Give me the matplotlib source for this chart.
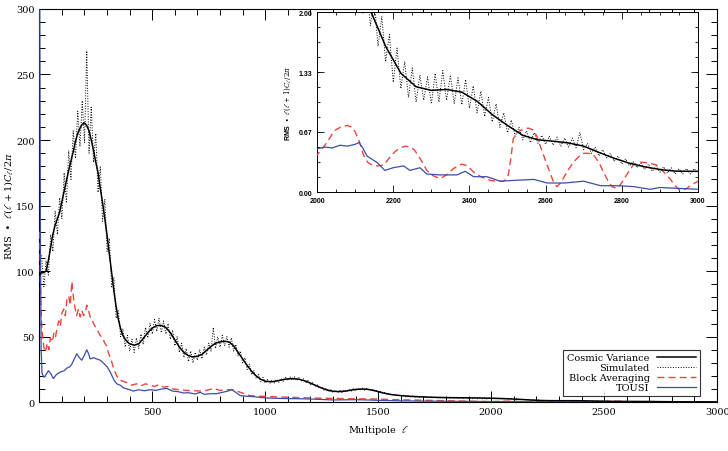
import numpy as np
import matplotlib
matplotlib.use("Agg")
import matplotlib.pyplot as plt
from matplotlib.ticker import MultipleLocator, FuncFormatter

plt.rcParams['font.family'] = ['DejaVu Serif']
plt.rcParams['mathtext.fontset'] = 'dejavuserif'

# cosmic variance (smooth curve)
cv_ell = [2, 10, 20, 30, 40, 50, 60, 70, 80, 90, 100, 110, 120, 130, 140, 150, 160, 170, 180, 190,
          200, 210, 220, 230, 240, 250, 260, 270, 280, 290, 300, 310, 320, 330, 340, 350, 360, 370, 380, 390,
          400, 420, 440, 460, 480, 500, 520, 540, 560, 580, 600, 620, 640, 660, 680, 700, 720, 740, 760, 780,
          800, 820, 840, 860, 880, 900, 920, 940, 960, 980, 1000, 1030, 1060, 1090, 1120, 1150, 1180, 1210,
          1240, 1270, 1300, 1330, 1360, 1390, 1420, 1450, 1480, 1510, 1550, 1600, 1650, 1700, 1750, 1800,
          1850, 1900, 1950, 2000, 2050, 2100, 2140, 2180, 2220, 2260, 2300, 2340, 2380, 2420, 2460, 2500,
          2540, 2580, 2620, 2660, 2700, 2740, 2780, 2820, 2860, 2900, 2940, 2980, 3000]
cv_val = [97, 99, 99, 100, 108, 118, 128, 135, 140, 145, 153, 161, 169, 177, 184, 191, 199, 205, 209, 212,
          213, 211, 207, 200, 192, 183, 175, 163, 152, 140, 127, 113, 99, 85, 73, 63, 56, 51, 48, 46,
          44.5, 43.5, 44.5, 48.5, 53, 56.5, 58.5, 58.5, 57, 53, 47.5, 42, 38, 35.5, 34.5, 35, 36.5, 39.5, 42.5, 45,
          46, 46.5, 46, 43, 38, 33, 28, 23.5, 20, 17.5, 16, 15.6, 16.5, 17.6, 18, 17.5, 16, 13.8,
          11.5, 9.5, 8.3, 8.1, 8.6, 9.5, 10, 9.9, 9.0, 7.6, 6.0, 5.0, 4.4, 4.0, 3.7, 3.5,
          3.4, 3.3, 3.2, 3.0, 2.75, 2.4, 2.02, 1.62, 1.32, 1.17, 1.13, 1.14, 1.11, 1.01, 0.86, 0.74,
          0.63, 0.58, 0.565, 0.545, 0.51, 0.44, 0.375, 0.32, 0.28, 0.25, 0.232, 0.23, 0.23]

# simulated spectrum, sampled every 10 in multipole
sim_ell = np.arange(10, 3001, 10)
sim_val = [112, 88, 108, 97, 128, 115, 146, 128, 156, 140,
           175, 152, 192, 170, 207, 186, 222, 195, 230, 198,
           268, 190, 225, 183, 205, 160, 180, 138, 155, 115,
           125, 88, 95, 64, 70, 50, 56, 42, 51, 39,
           48, 38, 49, 41, 52, 44, 57, 49, 60, 52,
           63, 54, 64, 53, 62, 52, 60, 48, 55, 43,
           50, 38, 45, 34, 41, 31, 39, 30, 38, 32,
           40, 33, 42, 36, 45, 39, 57, 41, 50, 42,
           51, 43, 50, 42, 49, 39, 44, 35, 39, 30,
           34, 25, 29, 21, 24, 18, 21, 15.5, 19, 14.5,
           17.2, 14.3, 16.9, 14.6, 17.5, 15.2, 18.1, 16.0, 19.0, 16.6,
           19.2, 16.8, 19.3, 16.5, 18.8, 16.0, 17.9, 14.9, 16.5, 13.4,
           14.9, 12.0, 13.3, 10.6, 11.7, 9.1, 10.5, 8.1, 9.5, 7.5,
           9.0, 7.2, 8.9, 7.4, 9.2, 7.8, 9.7, 8.4, 10.3, 8.9,
           10.7, 9.2, 10.8, 9.2, 10.6, 9.0, 10.1, 8.3, 9.2, 7.3,
           8.2, 6.6, 7.5, 5.9, 6.7, 5.2, 6.1, 4.7, 5.6, 4.4,
           5.4, 4.2, 5.0, 3.9, 4.8, 3.8, 4.6, 3.6, 4.4, 3.5,
           4.3, 3.3, 4.1, 3.2, 4.0, 3.1, 3.9, 3.0, 3.8, 3.0,
           3.8, 2.9, 3.7, 2.9, 3.7, 2.8, 3.6, 2.8, 3.6, 2.7,
           3.5, 2.7, 3.4, 2.6, 3.4, 2.6, 3.3, 2.5, 3.2, 2.5,
           3.2, 2.7, 3.1, 2.6, 2.95, 2.5, 2.85, 2.35, 2.7, 2.2,
           2.55, 1.98, 2.3, 1.85, 2.15, 1.62, 1.95, 1.45, 1.75, 1.22,
           1.6, 1.15, 1.45, 1.05, 1.38, 1.0, 1.3, 1.02, 1.28, 0.98,
           1.32, 1.0, 1.35, 1.02, 1.3, 0.98, 1.27, 0.97, 1.25, 0.93,
           1.18, 0.88, 1.12, 0.84, 1.05, 0.78, 0.98, 0.72, 0.88, 0.66,
           0.8, 0.62, 0.72, 0.58, 0.68, 0.55, 0.66, 0.54, 0.63, 0.53,
           0.62, 0.52, 0.61, 0.51, 0.6, 0.5, 0.6, 0.49, 0.66, 0.47,
           0.54, 0.43, 0.5, 0.4, 0.47, 0.38, 0.43, 0.34, 0.4, 0.31,
           0.37, 0.29, 0.34, 0.27, 0.32, 0.25, 0.31, 0.23, 0.29, 0.22,
           0.28, 0.21, 0.27, 0.2, 0.26, 0.2, 0.26, 0.2, 0.26, 0.21]

# block averaging
blk_ell = [2, 6, 10, 15, 20, 27, 35, 42, 49, 57, 65, 72, 78, 86, 93, 100, 108, 115, 122, 130,
           137, 144, 151, 158, 165, 173, 181, 188, 196, 203, 210, 218, 225, 232, 240, 250, 260, 269, 280, 290,
           298, 305, 312, 320, 330, 343, 355, 370, 387, 410, 430, 450, 470, 490, 510, 530, 550, 575, 593, 620,
           650, 680, 712, 740, 771, 800, 830, 860, 890, 933, 970, 1000, 1050, 1100, 1155, 1200, 1260, 1320,
           1380, 1440, 1500, 1560, 1620, 1700, 1780, 1850, 1920, 1970,
           2000, 2026, 2045, 2061, 2079, 2092, 2100, 2112, 2122, 2133, 2144, 2160, 2175, 2192, 2205, 2218,
           2232, 2244, 2255, 2265, 2278, 2288, 2305, 2323, 2340, 2358, 2370, 2380, 2395, 2411, 2430, 2454,
           2470, 2489, 2496, 2502, 2508, 2515, 2525, 2541, 2555, 2567, 2577, 2585, 2598, 2611, 2620, 2629,
           2637, 2646, 2660, 2673, 2686, 2700, 2713, 2726, 2740, 2752, 2763, 2774, 2787, 2796, 2804, 2817,
           2830, 2843, 2856, 2873, 2891, 2908, 2926, 2940, 2952, 2961, 2970, 2983, 2996, 3000]
blk_val = [130, 80, 60, 50, 42, 38, 45, 40, 49, 46, 53, 50, 56, 62, 58, 68, 71, 66, 78, 81,
           74, 92, 80, 72, 66, 71, 65, 70, 66, 68, 74, 70, 65, 64, 60, 57, 54, 51, 49, 45,
           43, 38, 35, 31, 25, 20, 17, 16, 15, 13, 14, 12.5, 14, 13, 12, 13.5, 11.5, 12, 10, 9.5,
           9, 8.8, 8.5, 9, 10.5, 9, 9.5, 9.5, 7.5, 5, 4.5, 4.5, 4.0, 3.8, 3.5, 3.2, 3.0, 2.8,
           2.6, 2.5, 2.4, 2.0, 1.8, 1.5, 1.2, 0.9, 0.7, 0.5,
           0.41, 0.55, 0.68, 0.72, 0.74, 0.72, 0.67, 0.55, 0.41, 0.33, 0.30, 0.29, 0.30, 0.39, 0.45, 0.49,
           0.51, 0.50, 0.47, 0.41, 0.32, 0.24, 0.18, 0.15, 0.19, 0.26, 0.29, 0.31, 0.29, 0.22, 0.17, 0.13,
           0.12, 0.12, 0.14, 0.19, 0.35, 0.59, 0.66, 0.70, 0.71, 0.69, 0.62, 0.52, 0.37, 0.22, 0.12, 0.06,
           0.09, 0.15, 0.25, 0.33, 0.39, 0.43, 0.43, 0.41, 0.33, 0.22, 0.13, 0.06, 0.04, 0.08, 0.13, 0.22,
           0.30, 0.33, 0.33, 0.32, 0.30, 0.23, 0.15, 0.07, 0.02, 0.02, 0.04, 0.08, 0.11, 0.12]

# TOUSI
tou_ell = [2, 5, 8, 12, 20, 30, 40, 50, 62, 75, 93, 110, 122, 135, 144, 155, 166, 177, 188, 200,
           210, 218, 225, 240, 254, 270, 283, 300, 314, 330, 343, 358, 372, 390, 416, 440, 465, 490, 515, 540,
           564, 590, 615, 638, 660, 690, 712, 730, 760, 785, 810, 835, 852, 870, 889, 920, 950, 980, 1007, 1040,
           1080, 1120, 1155, 1200, 1260, 1300, 1350, 1400, 1450, 1500, 1560, 1620, 1700, 1800, 1900,
           2000, 2020, 2040, 2060, 2080, 2100, 2110, 2120, 2131, 2157, 2178, 2200, 2227, 2244, 2270, 2288,
           2323, 2367, 2389, 2411, 2446, 2481, 2520, 2569, 2604, 2650, 2700, 2744, 2790, 2831, 2874, 2900,
           2950, 3000]
tou_val = [310, 120, 40, 22, 19, 21, 24, 22, 18, 21, 23, 24, 26, 27, 29, 33, 37, 34, 32, 36,
           40, 37, 33, 34, 33, 32, 30, 27, 23, 17, 14, 13, 11, 10, 8.5, 9.5, 8.7, 9.5, 9, 10,
           10.5, 8.5, 8, 7, 7.2, 6.3, 7.5, 6, 6.5, 6.5, 7.5, 8.5, 9.5, 7.5, 5, 4.5, 4.2, 3.6, 3.2, 3.0,
           2.8, 2.7, 2.6, 2.4, 2.0, 1.7, 1.8, 1.9, 1.7, 1.4, 1.2, 1.0, 0.8, 0.7, 0.6,
           0.48, 0.50, 0.49, 0.52, 0.51, 0.53, 0.55, 0.49, 0.40, 0.33, 0.24, 0.27, 0.29, 0.24, 0.27, 0.20,
           0.19, 0.19, 0.23, 0.17, 0.17, 0.12, 0.13, 0.14, 0.10, 0.10, 0.12, 0.07, 0.07, 0.06, 0.03, 0.05,
           0.04, 0.03]

red = '#e8473b'
blue = '#3c4ca8'


def draw_series(ax, lw=1.0):
    ax.plot(sim_ell, sim_val, color='black', ls=':', lw=0.7, label='Simulated', zorder=2)
    ax.plot(cv_ell, cv_val, color='black', ls='-', lw=1.1 * lw, label='Cosmic Variance', zorder=4)
    ax.plot(blk_ell, blk_val, color=red, ls=(0, (5, 3)), lw=lw, label='Block Averaging', zorder=3)
    ax.plot(tou_ell, tou_val, color=blue, ls='-', lw=0.9 * lw, label='TOUSI', zorder=3)


fig = plt.figure(figsize=(7.28, 4.52), dpi=100)
ax = fig.add_axes([0.054, 0.108, 0.931, 0.870])
draw_series(ax)
ax.set_xlim(0, 3000)
ax.set_ylim(0, 300)
ax.xaxis.set_major_locator(MultipleLocator(500))
ax.xaxis.set_minor_locator(MultipleLocator(100))
ax.yaxis.set_major_locator(MultipleLocator(50))
ax.yaxis.set_minor_locator(MultipleLocator(10))
ax.xaxis.set_major_formatter(FuncFormatter(lambda v, p: '' if v == 0 else '%d' % v))
ax.tick_params(which='both', direction='in', top=True, right=True, labelsize=7, width=0.7)
ax.tick_params(which='major', length=8)
ax.tick_params(which='minor', length=4)
for s in ax.spines.values():
    s.set_linewidth(0.8)
ax.set_xlabel(r'Multipole  $\ell$', fontsize=7)
ax.set_ylabel(r'RMS  $\bullet$  $\ell(\ell+1)C_\ell/2\pi$', fontsize=7)
ax.xaxis.labelpad = 5
ax.yaxis.labelpad = 1

h, l = ax.get_legend_handles_labels()
order = [1, 0, 2, 3]
leg = ax.legend([h[i] for i in order], [l[i] for i in order], loc='lower right',
                bbox_to_anchor=(0.975, 0.015), borderaxespad=0, markerfirst=False,
                fancybox=False, frameon=True, fontsize=7, handlelength=4,
                labelspacing=0.1, borderpad=0.4, handletextpad=0.8)
leg.get_frame().set_edgecolor('black')
leg.get_frame().set_linewidth(0.8)

# inset zoom on the high multipoles
axin = fig.add_axes([0.4355, 0.573, 0.5233, 0.398])
draw_series(axin, lw=1.0)
axin.set_xlim(2000, 3000)
axin.set_ylim(0, 2)
axin.set_xticks([2000, 2200, 2400, 2600, 2800, 3000])
axin.set_yticks([0, 0.67, 1.33, 2.0])
axin.xaxis.set_minor_locator(MultipleLocator(50))
axin.yaxis.set_minor_locator(MultipleLocator(0.1667))
axin.yaxis.set_major_formatter(FuncFormatter(lambda v, p: '%.2f' % v))
axin.tick_params(which='both', direction='in', top=True, right=True, width=0.6)
axin.tick_params(which='major', length=5)
axin.tick_params(which='minor', length=2.5)
for t in axin.get_xticklabels() + axin.get_yticklabels():
    t.set_fontfamily('Liberation Sans')
    t.set_fontweight('bold')
    t.set_fontsize(5)
axin.set_ylabel(r'RMS  $\bullet$  $\ell(\ell+1)C_\ell/2\pi$', fontsize=5,
                family='Liberation Sans', fontweight='bold')
axin.yaxis.labelpad = 4
for s in axin.spines.values():
    s.set_linewidth(0.7)

fig.savefig('out.png', dpi=100)
